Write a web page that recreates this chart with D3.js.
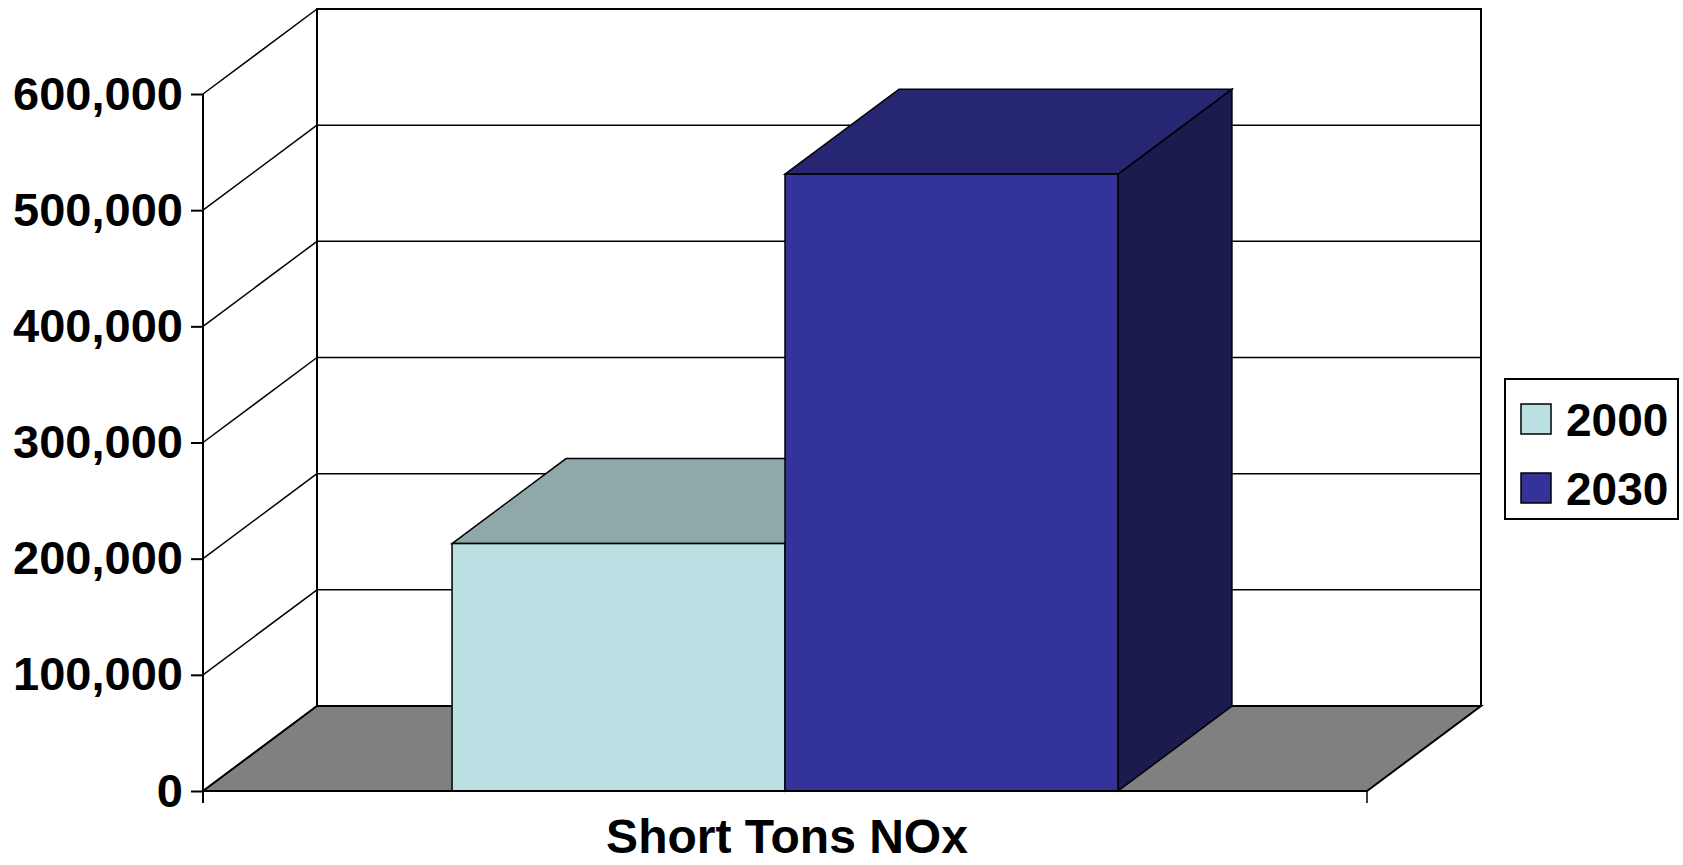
<!DOCTYPE html>
<html><head>
<meta charset="utf-8">
<script src="https://d3js.org/d3.v7.min.js"></script>
<style>
  body { margin: 0; background: #fff; }
  svg text { font-family: "Liberation Sans", Arial, sans-serif; font-weight: bold; }
</style>
</head>
<body>
<svg id="chart" width="1683" height="865"></svg>
<script>
// data
const categories = ["Short Tons NOx"];
const seriesNames = ["2000", "2030"];
const seriesValues = [213000, 531000];
const tickValues = [0, 100000, 200000, 300000, 400000, 500000, 600000];

const frontColors = ["#bbe0e3", "#333399"];
const topColors = ["#8fa9aa", "#262673"];
const sideColors = ["#8aa5a8", "#1b1b4d"];

const svg = d3.select("#chart");

// 3d offset of the back plane
const dx = 114, dy = -85;

let y = d3.scaleLinear().domain([0, 600000]).range([791, 94]);
let x = d3.scaleBand().domain(categories).range([203, 1367]);
let xs = d3.scaleBand().domain(seriesNames)
  .range([x(categories[0]), x(categories[0]) + x.bandwidth()])
  .paddingInner(0).paddingOuter(0.748);

const x0 = x.range()[0], x1 = x.range()[1];
const yTop = y(600000), y0 = y(0);

// back wall
svg.append("rect")
  .attr("x", x0 + dx).attr("y", yTop + dy)
  .attr("width", x1 - x0).attr("height", y0 - yTop)
  .attr("fill", "#fff").attr("stroke", "#000").attr("stroke-width", 2);

// gridlines on back wall + left wall
tickValues.slice(1, -1).forEach(v => {
  svg.append("line")
    .attr("x1", x0 + dx).attr("x2", x1 + dx)
    .attr("y1", y(v) + dy).attr("y2", y(v) + dy)
    .attr("stroke", "#000").attr("stroke-width", 1.5);
});
tickValues.forEach(v => {
  svg.append("line")
    .attr("x1", x0).attr("y1", y(v))
    .attr("x2", x0 + dx).attr("y2", y(v) + dy)
    .attr("stroke", "#000").attr("stroke-width", 1.5);
});

// floor
svg.append("polygon")
  .attr("points", [[x0, y0], [x1, y0], [x1 + dx, y0 + dy], [x0 + dx, y0 + dy]].join(" "))
  .attr("fill", "#808080").attr("stroke", "#000").attr("stroke-width", 2);

// bars
seriesNames.forEach((s, i) => {
  let bx = xs(s), bw = xs.bandwidth(), by = y(seriesValues[i]);
  let g = svg.append("g");
  g.append("polygon")
    .attr("points", [[bx + bw, by], [bx + bw + dx, by + dy], [bx + bw + dx, y0 + dy], [bx + bw, y0]].join(" "))
    .attr("fill", sideColors[i]).attr("stroke", "#000").attr("stroke-width", 1.5);
  g.append("polygon")
    .attr("points", [[bx, by], [bx + dx, by + dy], [bx + bw + dx, by + dy], [bx + bw, by]].join(" "))
    .attr("fill", topColors[i]).attr("stroke", "#000").attr("stroke-width", 1.5);
  g.append("rect")
    .attr("x", bx).attr("y", by).attr("width", bw).attr("height", y0 - by)
    .attr("fill", frontColors[i]).attr("stroke", "#000").attr("stroke-width", 1.5);
});

// axes
svg.append("line").attr("x1", x0).attr("x2", x0).attr("y1", yTop).attr("y2", y0 + 12)
  .attr("stroke", "#000").attr("stroke-width", 2);
svg.append("line").attr("x1", x0).attr("x2", x1).attr("y1", y0).attr("y2", y0)
  .attr("stroke", "#000").attr("stroke-width", 2);
svg.append("line").attr("x1", x1).attr("x2", x1).attr("y1", y0).attr("y2", y0 + 12)
  .attr("stroke", "#000").attr("stroke-width", 1.5);

let yAxis = svg.append("g")
  .attr("transform", `translate(${x0},0)`)
  .call(d3.axisLeft(y).tickValues(tickValues).tickFormat(d3.format(","))
    .tickSize(12).tickSizeOuter(0).tickPadding(8));
yAxis.select(".domain").remove();
yAxis.selectAll(".tick line").attr("stroke-width", 2);
yAxis.selectAll("text").attr("font-size", 47).attr("fill", "#000")
  .attr("font-family", "'Liberation Sans', Arial, sans-serif").attr("font-weight", "bold");

// category label
svg.append("text")
  .attr("x", x(categories[0]) + x.bandwidth() / 2 + 2).attr("y", 853)
  .attr("text-anchor", "middle").attr("font-size", 48)
  .text(categories[0]);

// legend
let lg = svg.append("g");
lg.append("rect").attr("x", 1505).attr("y", 379).attr("width", 173).attr("height", 140)
  .attr("fill", "#fff").attr("stroke", "#000").attr("stroke-width", 2);
seriesNames.forEach((s, i) => {
  lg.append("rect").attr("x", 1521).attr("y", 404 + i * 69).attr("width", 30).attr("height", 30)
    .attr("fill", frontColors[i]).attr("stroke", "#000").attr("stroke-width", 1.5);
  lg.append("text").attr("x", 1566).attr("y", 436 + i * 69)
    .attr("font-size", 46).text(s);
});
</script>
</body></html>
